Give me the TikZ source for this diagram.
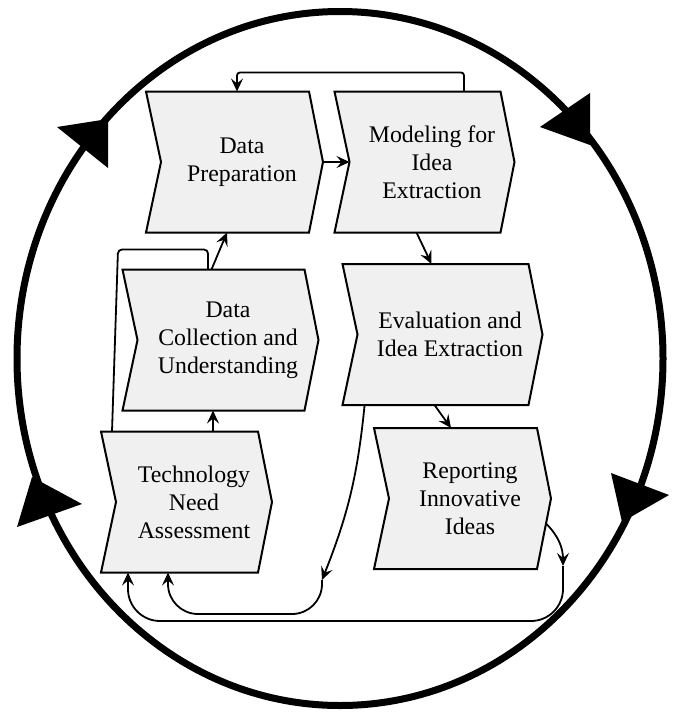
\documentclass[tikz,border=0pt]{standalone}
\usepackage{fontspec}
\setmainfont{LiberationSerif}[Extension=.ttf, UprightFont=*-Regular, BoldFont=*-Bold]
\usetikzlibrary{arrows.meta, backgrounds}
\tikzstyle{stage} = [rectangle, minimum height=141pt, inner sep=0pt, outer sep=0pt, align=center, font=\fontsize{23.8}{28}\selectfont]
\tikzstyle{outline} = [draw=black, line width=2pt, fill=black!6, line join=miter]
\tikzstyle{link} = [line width=1.8pt, -{Stealth[length=13pt,width=12pt,inset=5pt]}]
\tikzstyle{line} = [line width=1.8pt]

\begin{document}
\begin{tikzpicture}[x=1pt, y=-1pt, node distance=170pt]
    \useasboundingbox (0,0) rectangle (673,712);

    % Cycle
    \draw [line width=7pt] (340,358.5) ellipse [x radius=323pt, y radius=347pt];
    \fill (57,127) -- (108,119) -- (108,168) -- cycle;
    \fill (590,93) -- (540,127) -- (590,145) -- cycle;
    \fill (32,477) -- (82,504) -- (17,527) -- cycle;
    \fill (611,473) -- (669,495) -- (622,522) -- cycle;

    % Nodes
    \node (dp) [stage, minimum width=162pt] at (242,162) {Data\\Preparation};
    \node (mie) [stage, minimum width=165pt, right of=dp, xshift=20pt] {Modeling for\\Idea\\Extraction};
    \node (dcu) [stage, minimum width=181pt, below of=dp, xshift=-14pt, yshift=-8pt] {Data\\Collection and\\Understanding};
    \node (eie) [stage, minimum width=185pt, below of=mie, xshift=18pt, yshift=-2.5pt] {Evaluation and\\Idea Extraction};
    \node (tna) [stage, minimum width=156pt, below of=dcu, xshift=-34pt, yshift=8pt] {Technology\\Need\\Assessment};
    \node (rii) [stage, minimum width=162pt, below of=eie, xshift=20pt, yshift=6pt] {Reporting\\Innovative\\Ideas};

    % Chevrons behind the labels
    \begin{scope}[on background layer]
        \foreach \s in {dp,mie,dcu,eie,tna,rii}
            \draw [outline] ([xshift=-15pt]\s.north west) -- ([xshift=-14pt]\s.north east) -- (\s.east)
                -- ([xshift=-14pt]\s.south east) -- ([xshift=-15pt]\s.south west) -- (\s.west) -- cycle;
    \end{scope}

    % Arrows
    \draw [link] (dp.east) -- (mie.west);
    \draw [link, rounded corners=3pt] ([xshift=32pt]mie.north) -- ++(0,19pt) -| ([xshift=-5pt]dp.north);
    \draw [link] ([xshift=-16.5pt]dcu.north) -- ([xshift=-15pt]dp.south);
    \draw [link] ([xshift=19pt]tna.north) -- ([xshift=-15pt]dcu.south);
    \draw [line, rounded corners=4pt] ([xshift=-82pt]tna.north) -- ++(6pt,182pt) -| ([xshift=-20pt]dcu.north);
    \draw [link] ([xshift=-15.5pt]mie.south) -- ([xshift=-18.5pt]eie.north);
    \draw [link] ([xshift=-15.5pt]eie.south) -- ([xshift=-19pt]rii.north);

    % Feedback to the start
    \coordinate (ebend) at (322,580);
    \coordinate (rbend) at (563,566);
    \draw [link] ([xshift=-85.4pt]eie.south) to[bend left=8] (ebend);
    \draw [link, rounded corners=30pt] (ebend) -- ++(0,-34pt) -| ([xshift=-26pt]tna.south);
    \draw [link] ([xshift=-5pt,yshift=-25pt]rii.east) to[out=-45,in=90] (rbend);
    \draw [link, rounded corners=32pt] (rbend) -- ++(0,-55pt) -| ([xshift=-66pt]tna.south);

\end{tikzpicture}
\end{document}
